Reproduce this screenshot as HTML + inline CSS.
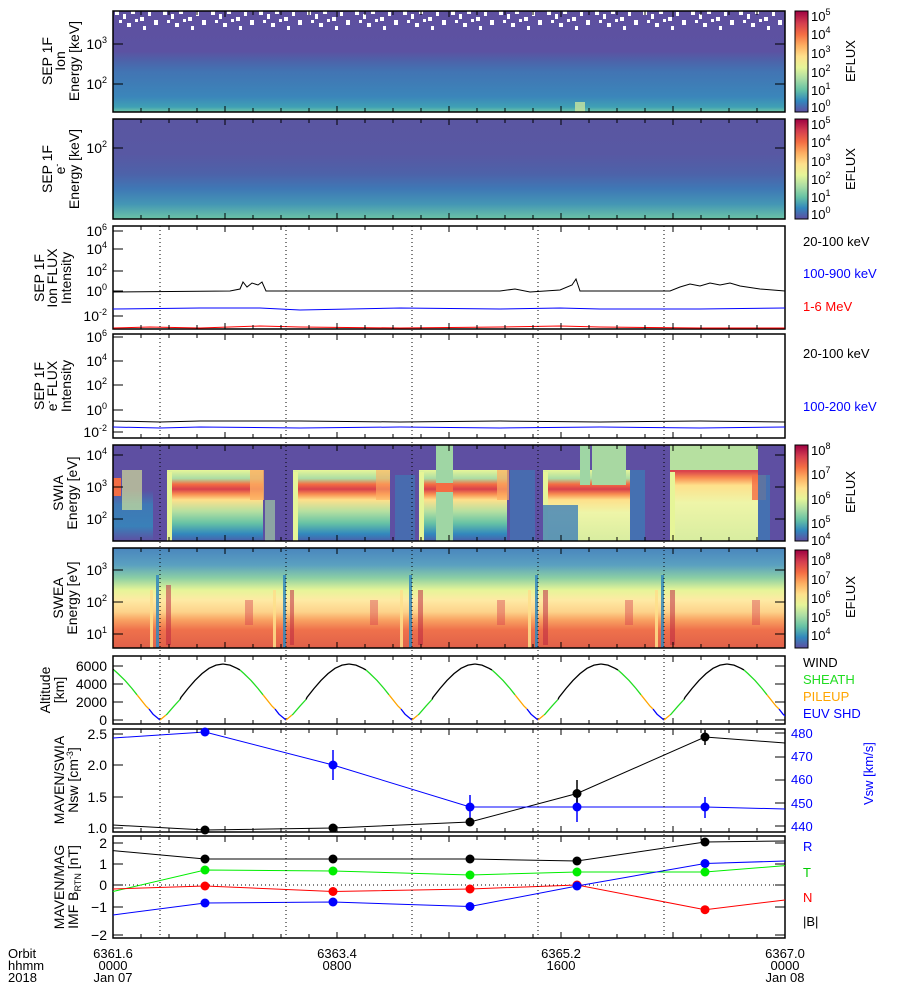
<!DOCTYPE html>
<html><head><meta charset="utf-8"><style>
html,body{margin:0;padding:0;background:#fff}
svg{display:block;font-family:"Liberation Sans",sans-serif}
</style></head><body>
<svg width="900" height="1000" viewBox="0 0 900 1000" xmlns="http://www.w3.org/2000/svg">
<defs>
<linearGradient id="cb" x1="0" y1="1" x2="0" y2="0">
<stop offset="0" stop-color="#5e4fa2"/><stop offset="0.11" stop-color="#3288bd"/><stop offset="0.22" stop-color="#66c2a5"/><stop offset="0.33" stop-color="#abdda4"/><stop offset="0.44" stop-color="#e6f598"/><stop offset="0.55" stop-color="#fee08b"/><stop offset="0.66" stop-color="#fdae61"/><stop offset="0.77" stop-color="#f46d43"/><stop offset="0.88" stop-color="#d53e4f"/><stop offset="1" stop-color="#9e0142"/></linearGradient>
<linearGradient id="g1" x1="0" y1="0" x2="0" y2="1">
<stop offset="0" stop-color="#5e50a0"/><stop offset="0.4" stop-color="#5c52a2"/><stop offset="0.5" stop-color="#4c64aa"/><stop offset="0.6" stop-color="#4274b3"/><stop offset="0.85" stop-color="#3b86ba"/><stop offset="0.95" stop-color="#3fa0b5"/><stop offset="1" stop-color="#70c8a4"/></linearGradient>
<linearGradient id="g2" x1="0" y1="0" x2="0" y2="1">
<stop offset="0" stop-color="#5a56a2"/><stop offset="0.35" stop-color="#5858a3"/><stop offset="0.55" stop-color="#4d62a9"/><stop offset="0.7" stop-color="#3f78b5"/><stop offset="0.85" stop-color="#4496b5"/><stop offset="1" stop-color="#6cc4a6"/></linearGradient>
<linearGradient id="sw" x1="0" y1="0" x2="0" y2="1">
<stop offset="0" stop-color="#e6f598"/><stop offset="0.12" stop-color="#abdda4"/><stop offset="0.2" stop-color="#f46d43"/><stop offset="0.27" stop-color="#d8404c"/><stop offset="0.34" stop-color="#f88c50"/><stop offset="0.42" stop-color="#fee08b"/><stop offset="0.58" stop-color="#b6e0a0"/><stop offset="0.75" stop-color="#66c2a5"/><stop offset="0.9" stop-color="#3288bd"/><stop offset="1" stop-color="#4a60aa"/></linearGradient>
<linearGradient id="swy" x1="0" y1="0" x2="0" y2="1">
<stop offset="0" stop-color="#e6f598"/><stop offset="0.12" stop-color="#abdda4"/><stop offset="0.2" stop-color="#f46d43"/><stop offset="0.27" stop-color="#d8404c"/><stop offset="0.34" stop-color="#f88c50"/><stop offset="0.42" stop-color="#fee08b"/><stop offset="0.6" stop-color="#eef5a8"/><stop offset="1" stop-color="#d8eda0"/></linearGradient>
<linearGradient id="mag" x1="0" y1="0" x2="0" y2="1">
<stop offset="0" stop-color="#5e4fa2"/><stop offset="0.3" stop-color="#5e4fa2"/><stop offset="0.5" stop-color="#3f78b5"/><stop offset="0.8" stop-color="#3a80b8"/><stop offset="1" stop-color="#5e4fa2"/></linearGradient>
<linearGradient id="swea" x1="0" y1="0" x2="0" y2="1">
<stop offset="0" stop-color="#4a86be"/><stop offset="0.17" stop-color="#5aa0c0"/><stop offset="0.3" stop-color="#8ccfa4"/><stop offset="0.42" stop-color="#e6f598"/><stop offset="0.52" stop-color="#feeaa4"/><stop offset="0.64" stop-color="#fdd28a"/><stop offset="0.72" stop-color="#f9a262"/><stop offset="0.82" stop-color="#ef714b"/><stop offset="1" stop-color="#e0604a"/></linearGradient>
<pattern id="speck" x="113" y="11" width="48" height="22" patternUnits="userSpaceOnUse">
<rect x="2" y="0" width="4" height="4" fill="#fff"/><rect x="10" y="3" width="3" height="5" fill="#fff"/><rect x="18" y="0" width="4" height="3" fill="#fff"/><rect x="27" y="6" width="4" height="4" fill="#fff"/><rect x="35" y="1" width="3" height="4" fill="#fff"/><rect x="41" y="9" width="4" height="5" fill="#fff"/><rect x="14" y="12" width="4" height="4" fill="#fff"/><rect x="30" y="15" width="3" height="4" fill="#fff"/><rect x="6" y="9" width="3" height="3" fill="#fff"/><rect x="22" y="8" width="3" height="3" fill="#fff"/>
</pattern>
<clipPath id="c7"><rect x="113" y="656" width="672" height="68"/></clipPath>
<g id="orb" fill="none" stroke-width="1.3">
<polyline stroke="#000" points="-63,664 -56,665.1 -49,668.3 -46,670"/>
<polyline stroke="#22dd22" points="-46,670 -42,673.6 -35,680.4 -28,688.5 -23,694.8"/>
<polyline stroke="#ffa500" points="-23,694.8 -21,697.3 -14,706.1 -11,709"/>
<polyline stroke="#0000ff" points="-11,709 -7,714.2 0,720"/>
<polyline stroke="#ffa500" points="0,720 6,715"/>
<polyline stroke="#22dd22" points="6,715 7,714.2 14,706.1 20,699.5"/>
<polyline stroke="#000" points="20,699.5 21,697.3 28,688.5 35,680.4 42,673.6 49,668.3 56,665.1 63,664"/>
</g>
<path id="xt" d="M113 0v6M141 0v4M169 0v4M197 0v4M225 0v6M253 0v4M281 0v4M309 0v4M337 0v6M365 0v4M393 0v4M421 0v4M449 0v6M477 0v4M505 0v4M533 0v4M561 0v6M589 0v4M617 0v4M645 0v4M673 0v6M701 0v4M729 0v4M757 0v4M785 0v6" stroke="#000" stroke-width="1"/>
</defs>

<!-- Panel 1 -->
<rect x="113" y="11" width="672" height="101" fill="url(#g1)"/>
<rect x="113" y="11" width="672" height="20" fill="url(#speck)"/>
<rect x="575" y="102" width="10" height="10" fill="#c8e6a0" opacity="0.8"/>
<rect x="113" y="11" width="672" height="101" fill="none" stroke="#000" stroke-width="1.5"/>
<!-- Panel 2 -->
<rect x="113" y="119" width="672" height="100" fill="url(#g2)"/>
<rect x="113" y="119" width="672" height="100" fill="none" stroke="#000" stroke-width="1.5"/>

<!-- Panel 3 -->
<rect x="113" y="226" width="672" height="103" fill="#fff" stroke="#000" stroke-width="1.5"/>
<polyline fill="none" stroke="#000" points="113,292 230,291 240,289 243,282 247,287 252,283 258,285 262,282 266,291 300,291 400,291 500,291 515,289 530,292 560,290 572,285 576,279 580,291 620,291 670,291 680,287 690,284 700,286 710,283 720,285 730,283 740,286 760,289 785,291"/>
<polyline fill="none" stroke="#0000ff" points="113,309 200,308 260,308 300,310 400,308 500,309 560,308 600,309 700,309 785,308"/>
<polyline fill="none" stroke="#ff0000" points="113,328 150,327 200,328 260,326 300,327 400,328 500,327 560,326 600,327 700,328 785,328"/>
<!-- Panel 4 -->
<rect x="113" y="334" width="672" height="104" fill="#fff" stroke="#000" stroke-width="1.5"/>
<polyline fill="none" stroke="#000" points="113,421 160,422 200,421 300,421 400,422 500,421 600,422 700,421 785,422"/>
<polyline fill="none" stroke="#0000ff" points="113,427 160,428 200,427 300,428 400,427 500,428 600,427 700,428 785,427"/>

<!-- Panel 5 SWIA -->
<rect x="113" y="445" width="672" height="96" fill="#5e4fa2"/>
<rect x="113" y="468" width="40" height="73" fill="url(#mag)"/>
<rect x="122" y="470" width="20" height="40" fill="#e6f598" opacity="0.6"/>
<rect x="113" y="478" width="8" height="18" fill="#f46d43"/>
<rect x="265" y="500" width="10" height="41" fill="#abdda4" opacity="0.6"/>
<rect x="167" y="470" width="96" height="71" fill="url(#sw)"/>
<rect x="167" y="472" width="5" height="69" fill="#e6f598"/>
<rect x="250" y="470" width="14" height="30" fill="#fdae61" opacity="0.8"/>
<rect x="293" y="470" width="97" height="71" fill="url(#sw)"/>
<rect x="293" y="472" width="5" height="69" fill="#e6f598"/>
<rect x="376" y="470" width="14" height="30" fill="#fdae61" opacity="0.6"/>
<rect x="395" y="475" width="20" height="66" fill="#3f78b5" opacity="0.7"/>
<rect x="419" y="470" width="88" height="71" fill="url(#sw)"/>
<rect x="419" y="472" width="5" height="69" fill="#e6f598"/>
<rect x="436" y="445" width="17" height="96" fill="#9fd6a4"/>
<rect x="436" y="483" width="17" height="9" fill="#f46d43"/>
<rect x="497" y="470" width="12" height="30" fill="#fdae61" opacity="0.7"/>
<rect x="510" y="470" width="25" height="71" fill="#3f78b5" opacity="0.7"/>
<rect x="543" y="470" width="87" height="71" fill="url(#swy)"/>
<rect x="543" y="472" width="5" height="69" fill="#e6f598"/>
<rect x="580" y="445" width="10" height="40" fill="#9fd6a4"/>
<rect x="592" y="445" width="34" height="40" fill="#a8d8a2"/>
<rect x="543" y="505" width="35" height="36" fill="#3f80b8" opacity="0.8"/>
<rect x="630" y="470" width="15" height="71" fill="#3f78b5" opacity="0.8"/>
<rect x="670" y="445" width="88" height="96" fill="url(#swy)"/>
<rect x="670" y="445" width="88" height="25" fill="#b6e0a0"/>
<rect x="670" y="472" width="5" height="69" fill="#e6f598"/>
<rect x="752" y="475" width="14" height="25" fill="#f46d43" opacity="0.8"/>
<rect x="758" y="475" width="12" height="66" fill="#3f78b5" opacity="0.8"/>
<rect x="113" y="445" width="672" height="96" fill="none" stroke="#000" stroke-width="1.5"/>

<!-- Panel 6 SWEA -->
<rect x="113" y="548" width="672" height="100" fill="url(#swea)"/>
<g opacity="0.85">
<rect x="150" y="590" width="3" height="58" fill="#fee08b"/><rect x="156" y="575" width="3" height="73" fill="#3288bd"/><rect x="166" y="585" width="5" height="60" fill="#b8203f" opacity="0.6"/>
<rect x="273" y="590" width="3" height="58" fill="#fee08b"/><rect x="283" y="575" width="3" height="73" fill="#3288bd"/><rect x="290" y="590" width="4" height="55" fill="#b8203f" opacity="0.6"/>
<rect x="400" y="590" width="3" height="58" fill="#fee08b"/><rect x="409" y="575" width="3" height="73" fill="#3288bd"/><rect x="418" y="590" width="5" height="55" fill="#b8203f" opacity="0.6"/>
<rect x="528" y="590" width="3" height="58" fill="#fee08b"/><rect x="535" y="575" width="3" height="73" fill="#3288bd"/><rect x="543" y="590" width="5" height="55" fill="#b8203f" opacity="0.6"/>
<rect x="655" y="590" width="3" height="58" fill="#fee08b"/><rect x="661" y="575" width="3" height="73" fill="#3288bd"/><rect x="670" y="590" width="5" height="55" fill="#b8203f" opacity="0.6"/>
<rect x="245" y="600" width="8" height="25" fill="#d53e4f" opacity="0.5"/><rect x="370" y="600" width="8" height="25" fill="#d53e4f" opacity="0.5"/><rect x="497" y="600" width="8" height="25" fill="#d53e4f" opacity="0.5"/><rect x="625" y="600" width="8" height="25" fill="#d53e4f" opacity="0.5"/><rect x="752" y="600" width="8" height="25" fill="#d53e4f" opacity="0.5"/>
</g>
<rect x="113" y="548" width="672" height="100" fill="none" stroke="#000" stroke-width="1.5"/>

<!-- Panel 7 altitude -->
<rect x="113" y="656" width="672" height="68" fill="#fff" stroke="#000" stroke-width="1.5"/>
<g clip-path="url(#c7)">
<use href="#orb" x="160"/><use href="#orb" x="286"/><use href="#orb" x="412"/><use href="#orb" x="538"/><use href="#orb" x="664"/><use href="#orb" x="790"/>
</g>

<!-- Panel 8 -->
<rect x="113" y="729" width="672" height="103" fill="#fff" stroke="#000" stroke-width="1.5"/>
<polyline fill="none" stroke="#000" points="113,825 205,830 333,828 470,822 577,793.5 705,737 785,743"/>
<polyline fill="none" stroke="#0000ff" points="113,738 205,732 333,765 470,807 577,807 705,807 785,809"/>
<g stroke="#0000ff" stroke-width="1.5"><line x1="333" y1="750" x2="333" y2="780"/><line x1="470" y1="795" x2="470" y2="820"/><line x1="577" y1="795" x2="577" y2="822"/><line x1="705" y1="797" x2="705" y2="818"/></g>
<g stroke="#000" stroke-width="1.5"><line x1="577" y1="780" x2="577" y2="808"/><line x1="705" y1="730" x2="705" y2="745"/></g>
<g fill="#000"><circle cx="205" cy="830" r="4.5"/><circle cx="333" cy="828" r="4.5"/><circle cx="470" cy="822" r="4.5"/><circle cx="577" cy="793.5" r="4.5"/><circle cx="705" cy="737" r="4.5"/></g>
<g fill="#0000ff"><circle cx="205" cy="732" r="4.5"/><circle cx="333" cy="765" r="4.5"/><circle cx="470" cy="807" r="4.5"/><circle cx="577" cy="807" r="4.5"/><circle cx="705" cy="807" r="4.5"/></g>

<!-- Panel 9 -->
<rect x="113" y="836" width="672" height="102" fill="#fff" stroke="#000" stroke-width="1.5"/>
<line x1="113" y1="885" x2="785" y2="885" stroke="#000" stroke-dasharray="1,3"/>
<polyline fill="none" stroke="#000" points="113,850.6 205,859 333,859 470,859 577,861 705,842 785,841"/>
<polyline fill="none" stroke="#00ee00" points="113,891.5 205,870 333,871 470,875 577,872 705,872 785,865.6"/>
<polyline fill="none" stroke="#ff0000" points="113,889 205,886 333,891.5 470,889 577,885 705,909.7 785,900"/>
<polyline fill="none" stroke="#0000ff" points="113,915 205,903 333,902 470,906.5 577,886 705,863.5 785,861"/>
<g fill="#000"><circle cx="205" cy="859" r="4.5"/><circle cx="333" cy="859" r="4.5"/><circle cx="470" cy="859" r="4.5"/><circle cx="577" cy="861" r="4.5"/><circle cx="705" cy="842" r="4.5"/></g>
<g fill="#00ee00"><circle cx="205" cy="870" r="4.5"/><circle cx="333" cy="871" r="4.5"/><circle cx="470" cy="875" r="4.5"/><circle cx="577" cy="872" r="4.5"/><circle cx="705" cy="872" r="4.5"/></g>
<g fill="#ff0000"><circle cx="205" cy="886" r="4.5"/><circle cx="333" cy="891.5" r="4.5"/><circle cx="470" cy="889" r="4.5"/><circle cx="577" cy="885" r="4.5"/><circle cx="705" cy="909.7" r="4.5"/></g>
<g fill="#0000ff"><circle cx="205" cy="903" r="4.5"/><circle cx="333" cy="902" r="4.5"/><circle cx="470" cy="906.5" r="4.5"/><circle cx="577" cy="886" r="4.5"/><circle cx="705" cy="863.5" r="4.5"/></g>

<!-- dotted periapsis lines -->
<g stroke="#000" stroke-dasharray="1,3">
<line x1="160" y1="226" x2="160" y2="938"/><line x1="286" y1="226" x2="286" y2="938"/><line x1="412" y1="226" x2="412" y2="938"/><line x1="538" y1="226" x2="538" y2="938"/><line x1="664" y1="226" x2="664" y2="938"/>
</g>

<!-- x ticks -->
<use href="#xt" y="11"/><use href="#xt" transform="translate(0,112) scale(1,-1)"/>
<use href="#xt" y="119"/><use href="#xt" transform="translate(0,219) scale(1,-1)"/>
<use href="#xt" y="226"/><use href="#xt" transform="translate(0,329) scale(1,-1)"/>
<use href="#xt" y="334"/><use href="#xt" transform="translate(0,438) scale(1,-1)"/>
<use href="#xt" y="445"/><use href="#xt" transform="translate(0,541) scale(1,-1)"/>
<use href="#xt" y="548"/><use href="#xt" transform="translate(0,648) scale(1,-1)"/>
<use href="#xt" y="656"/><use href="#xt" transform="translate(0,724) scale(1,-1)"/>
<use href="#xt" y="729"/><use href="#xt" transform="translate(0,832) scale(1,-1)"/>
<use href="#xt" y="836"/><use href="#xt" transform="translate(0,938) scale(1,-1)"/>

<!-- y ticks -->
<path stroke="#000" stroke-width="1" d="M113 44h10M113 84h10M113 148h10M113 231h10M113 249h10M113 271h10M113 291h10M113 316h10M113 337h10M113 361h10M113 385h10M113 410h10M113 432h10M113 455h10M113 487h10M113 519h10M113 570h10M113 602h10M113 634h10M113 666h10M113 684h10M113 702h10M113 720h10M113 734h10M113 765h10M113 797h10M113 828h10M113 843h10M113 864h10M113 885h10M113 907h10M113 935h10
M785 44h-10M785 84h-10M785 148h-10M785 455h-10M785 487h-10M785 519h-10M785 570h-10M785 602h-10M785 634h-10M785 666h-10M785 684h-10M785 702h-10M785 720h-10M785 733h-10M785 757h-10M785 780h-10M785 803h-10M785 826h-10M785 843h-10M785 864h-10M785 885h-10M785 907h-10M785 935h-10"/>

<!-- colorbars -->
<g stroke="#000" stroke-width="1">
<rect x="795" y="11" width="13" height="101" fill="url(#cb)"/>
<rect x="795" y="119" width="13" height="100" fill="url(#cb)"/>
<rect x="795" y="445" width="13" height="96" fill="url(#cb)"/>
<rect x="795" y="550" width="13" height="98" fill="url(#cb)"/>
</g>
<g font-size="13" fill="#000">
<text x="811" y="21">10<tspan font-size="9" dy="-6">5</tspan></text>
<text x="811" y="39">10<tspan font-size="9" dy="-6">4</tspan></text>
<text x="811" y="58">10<tspan font-size="9" dy="-6">3</tspan></text>
<text x="811" y="77">10<tspan font-size="9" dy="-6">2</tspan></text>
<text x="811" y="95">10<tspan font-size="9" dy="-6">1</tspan></text>
<text x="811" y="112">10<tspan font-size="9" dy="-6">0</tspan></text>
<text x="811" y="129">10<tspan font-size="9" dy="-6">5</tspan></text>
<text x="811" y="147">10<tspan font-size="9" dy="-6">4</tspan></text>
<text x="811" y="166">10<tspan font-size="9" dy="-6">3</tspan></text>
<text x="811" y="184">10<tspan font-size="9" dy="-6">2</tspan></text>
<text x="811" y="202">10<tspan font-size="9" dy="-6">1</tspan></text>
<text x="811" y="219">10<tspan font-size="9" dy="-6">0</tspan></text>
<text x="811" y="455">10<tspan font-size="9" dy="-6">8</tspan></text>
<text x="811" y="479">10<tspan font-size="9" dy="-6">7</tspan></text>
<text x="811" y="504">10<tspan font-size="9" dy="-6">6</tspan></text>
<text x="811" y="528">10<tspan font-size="9" dy="-6">5</tspan></text>
<text x="811" y="545">10<tspan font-size="9" dy="-6">4</tspan></text>
<text x="811" y="565">10<tspan font-size="9" dy="-6">8</tspan></text>
<text x="811" y="584">10<tspan font-size="9" dy="-6">7</tspan></text>
<text x="811" y="603">10<tspan font-size="9" dy="-6">6</tspan></text>
<text x="811" y="622">10<tspan font-size="9" dy="-6">5</tspan></text>
<text x="811" y="640">10<tspan font-size="9" dy="-6">4</tspan></text>
<text transform="translate(855,82) rotate(-90)">EFLUX</text>
<text transform="translate(855,190) rotate(-90)">EFLUX</text>
<text transform="translate(855,513) rotate(-90)">EFLUX</text>
<text transform="translate(855,618) rotate(-90)">EFLUX</text>
</g>

<!-- legends -->
<g font-size="13">
<text x="803" y="246" fill="#000">20-100 keV</text>
<text x="803" y="278" fill="#0000ff">100-900 keV</text>
<text x="803" y="311" fill="#ff0000">1-6 MeV</text>
<text x="803" y="358" fill="#000">20-100 keV</text>
<text x="803" y="411" fill="#0000ff">100-200 keV</text>
<text x="803" y="667" fill="#000">WIND</text>
<text x="803" y="684" fill="#22dd22">SHEATH</text>
<text x="803" y="701" fill="#ffa500">PILEUP</text>
<text x="803" y="718" fill="#0000ff">EUV SHD</text>
<text x="803" y="851" fill="#0000ff">R</text>
<text x="803" y="877" fill="#00cc00">T</text>
<text x="803" y="902" fill="#ff0000">N</text>
<text x="803" y="926" fill="#000">|B|</text>
</g>
<g font-size="13" fill="#0000ff" text-anchor="start">
<text x="791" y="738">480</text><text x="791" y="761">470</text><text x="791" y="784">460</text><text x="791" y="808">450</text><text x="791" y="831">440</text>
<text transform="translate(873,805) rotate(-90)">Vsw [km/s]</text>
</g>

<!-- left tick labels -->
<g font-size="14" fill="#000" text-anchor="end">
<text x="107" y="49">10<tspan font-size="9" dy="-6">3</tspan></text>
<text x="107" y="89">10<tspan font-size="9" dy="-6">2</tspan></text>
<text x="107" y="153">10<tspan font-size="9" dy="-6">2</tspan></text>
<text x="107" y="236">10<tspan font-size="9" dy="-6">6</tspan></text>
<text x="107" y="254">10<tspan font-size="9" dy="-6">4</tspan></text>
<text x="107" y="276">10<tspan font-size="9" dy="-6">2</tspan></text>
<text x="107" y="296">10<tspan font-size="9" dy="-6">0</tspan></text>
<text x="107" y="321">10<tspan font-size="9" dy="-6">-2</tspan></text>
<text x="107" y="342">10<tspan font-size="9" dy="-6">6</tspan></text>
<text x="107" y="366">10<tspan font-size="9" dy="-6">4</tspan></text>
<text x="107" y="390">10<tspan font-size="9" dy="-6">2</tspan></text>
<text x="107" y="415">10<tspan font-size="9" dy="-6">0</tspan></text>
<text x="107" y="437">10<tspan font-size="9" dy="-6">-2</tspan></text>
<text x="107" y="460">10<tspan font-size="9" dy="-6">4</tspan></text>
<text x="107" y="492">10<tspan font-size="9" dy="-6">3</tspan></text>
<text x="107" y="524">10<tspan font-size="9" dy="-6">2</tspan></text>
<text x="107" y="575">10<tspan font-size="9" dy="-6">3</tspan></text>
<text x="107" y="607">10<tspan font-size="9" dy="-6">2</tspan></text>
<text x="107" y="639">10<tspan font-size="9" dy="-6">1</tspan></text>
<text x="107" y="671">6000</text><text x="107" y="689">4000</text><text x="107" y="707">2000</text><text x="107" y="725">0</text>
<text x="107" y="739">2.5</text><text x="107" y="770">2.0</text><text x="107" y="802">1.5</text><text x="107" y="833">1.0</text>
<text x="107" y="848">2</text><text x="107" y="869">1</text><text x="107" y="890">0</text><text x="107" y="912">−1</text><text x="107" y="940">−2</text>
</g>

<!-- axis titles -->
<g font-size="14" fill="#000" text-anchor="middle">
<g transform="translate(52,61) rotate(-90)"><text y="0">SEP 1F</text><text y="13">Ion</text><text y="27">Energy [keV]</text></g>
<g transform="translate(52,169) rotate(-90)"><text y="0">SEP 1F</text><text y="13">e<tspan font-size="9" dy="-5">-</tspan></text><text y="27">Energy [keV]</text></g>
<g transform="translate(44,278) rotate(-90)"><text y="0">SEP 1F</text><text y="13">Ion FLUX</text><text y="27">Intensity</text></g>
<g transform="translate(44,386) rotate(-90)"><text y="0">SEP 1F</text><text y="13">e<tspan font-size="9" dy="-5">-</tspan><tspan dy="5"> FLUX</tspan></text><text y="27">Intensity</text></g>
<g transform="translate(63,493) rotate(-90)"><text y="0">SWIA</text><text y="14">Energy [eV]</text></g>
<g transform="translate(63,598) rotate(-90)"><text y="0">SWEA</text><text y="14">Energy [eV]</text></g>
<g transform="translate(50,690) rotate(-90)"><text y="0">Altitude</text><text y="14">[km]</text></g>
<g transform="translate(64,780) rotate(-90)"><text y="0">MAVEN/SWIA</text><text y="14">Nsw [cm<tspan font-size="9" dy="-5">-3</tspan><tspan dy="5">]</tspan></text></g>
<g transform="translate(64,887) rotate(-90)"><text y="0">MAVEN/MAG</text><text y="14">IMF B<tspan font-size="9" dy="3">RTN</tspan><tspan dy="-3"> [nT]</tspan></text></g>
</g>

<!-- bottom labels -->
<g font-size="13" fill="#000">
<text x="8" y="958">Orbit</text><text x="8" y="970">hhmm</text><text x="8" y="982">2018</text>
</g>
<g font-size="13" fill="#000" text-anchor="middle">
<text x="113" y="958">6361.6</text><text x="113" y="970">0000</text><text x="113" y="982">Jan 07</text>
<text x="337" y="958">6363.4</text><text x="337" y="970">0800</text>
<text x="561" y="958">6365.2</text><text x="561" y="970">1600</text>
<text x="785" y="958">6367.0</text><text x="785" y="970">0000</text><text x="785" y="982">Jan 08</text>
</g>
</svg>
</body></html>
